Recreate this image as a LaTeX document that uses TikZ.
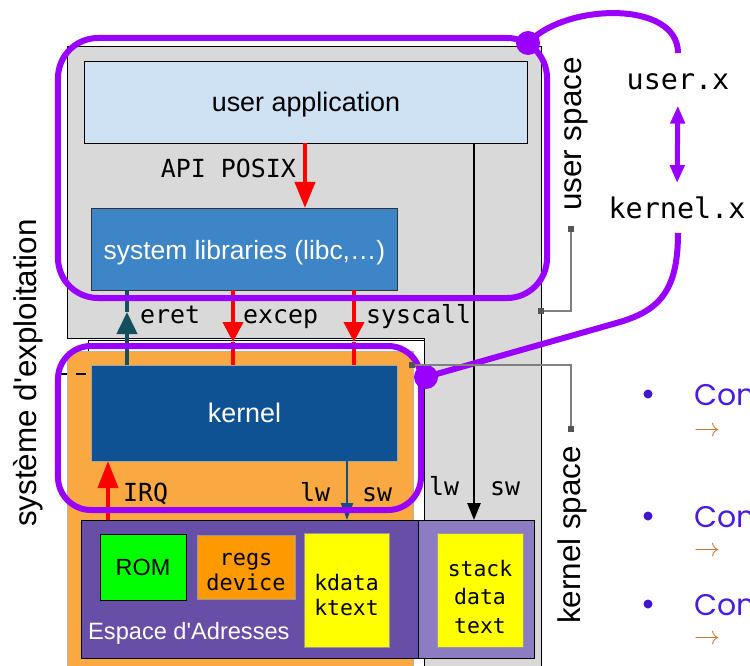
\documentclass[tikz,border=0pt]{standalone}
\usepackage{fontspec}
\setmainfont{Liberation Sans}
\newfontfamily\monof{DejaVu Sans Mono}
\newfontfamily\popf{Poppins}
\usetikzlibrary{arrows.meta}
\definecolor{grayfill}{HTML}{D9D9D9}
\definecolor{uablue}{HTML}{CFE2F3}
\definecolor{slblue}{HTML}{3D85C6}
\definecolor{kblue}{HTML}{0F5294}
\definecolor{orbg}{HTML}{F9A842}
\definecolor{espc}{HTML}{674EA7}
\definecolor{stkc}{HTML}{8E7CC3}
\definecolor{tealc}{HTML}{134F5C}
\definecolor{lwc}{HTML}{154E7E}
\definecolor{purp}{HTML}{9900FF}
\definecolor{conc}{HTML}{4A1CE2}
\definecolor{bulc}{HTML}{4215CF}
\definecolor{arrc}{HTML}{C97B3D}
\definecolor{romg}{HTML}{00FF00}
\definecolor{regc}{HTML}{FF9900}
\definecolor{yel}{HTML}{FFFF00}
\definecolor{conng}{HTML}{808080}
\definecolor{sqc}{HTML}{555555}
\begin{document}
\begin{tikzpicture}[x=1bp,y=-1bp,
  box/.style={draw=black, line width=1bp, inner sep=0pt, outer sep=0pt},
  sansbig/.style={font=\fontsize{27}{32}\selectfont},
  mono/.style={font=\monof\fontsize{25}{30}\selectfont, inner sep=0pt},
  purpline/.style={draw=purp, line width=6bp},
  purpbox/.style={draw=purp, line width=6bp, inner sep=0pt},
  dot/.style={circle, fill=purp, inner sep=0pt, minimum size=24bp},
  conn/.style={draw=conng, line width=1.3bp},
  sq/.style={fill=sqc, inner sep=0pt, minimum size=6bp},
  bul/.style={circle, fill=bulc, inner sep=0pt, minimum size=9bp},
  contxt/.style={anchor=base west, inner sep=0pt, text=conc, font=\popf\fontsize{30}{36}\selectfont},
  arrtxt/.style={anchor=west, inner sep=0pt, text=arrc},
  vlab/.style={rotate=90, inner sep=0pt, font=\fontsize{31.5}{36}\selectfont},
  intxt/.style={inner sep=0pt, align=center}
]
\useasboundingbox (0,0) rectangle (750,666);

% background regions
\path[fill=grayfill, draw=black, line width=1bp] (67,47) -- (541,47) -- (541,670) -- (424,670) -- (424,338) -- (67,338) -- cycle;
\path[fill=white, draw=black, line width=1bp] (88,340) rectangle (424,670);
\path[fill=orbg, draw=black!30, line width=1bp] (67,351) rectangle (413,670);
\draw[line width=2bp, dash pattern=on 10bp off 9bp] (57,374) -- (88,374);

% boxes
\node[box, fill=uablue, minimum width=442bp, minimum height=81bp] (ua) at (306,102.5) {};
\node[intxt, sansbig, yshift=-2.5bp] (uat) at (ua.center) {user application};
\node[box, draw=black!80, fill=slblue, minimum width=305bp, minimum height=82bp] (sl) at (244.5,249) {};
\node[intxt, text=white, font=\fontsize{26.5}{30}\selectfont, yshift=-3.5bp] (slt) at (sl.center) {system libraries (libc,…)};
\node[box, draw=black!35, fill=kblue, text=white, minimum width=305bp, minimum height=96bp, sansbig] (k) at (244.5,413) {kernel};
\node[box, fill=espc, minimum width=336bp, minimum height=138bp] (esp) at (250,589) {};
\node[box, fill=stkc, minimum width=116bp, minimum height=138bp] (stk) at (476,589) {};
\node[box, fill=romg, minimum width=86bp, minimum height=66bp, font=\fontsize{23.5}{28}\selectfont] (rom) at (143,567) {ROM};
\node[box, draw=black!40, fill=regc, minimum width=98bp, minimum height=64bp] (regs) at (246,567) {};
\node[intxt, font=\monof\fontsize{22}{25}\selectfont, yshift=-5bp] (regst) at (regs.center) {regs\\device};
\node[box, draw=black!40, fill=yel, minimum width=85bp, minimum height=114bp] (kd) at (346.5,590) {};
\node[intxt, font=\monof\fontsize{21.5}{26}\selectfont, yshift=-5bp] (kdt) at (kd.center) {kdata\\ktext};
\node[box, draw=black!40, fill=yel, minimum width=86bp, minimum height=114bp] (sd) at (480,590) {};
\node[intxt, font=\monof\fontsize{21.5}{28.5}\selectfont, yshift=-7bp] (sdt) at (sd.center) {stack\\data\\text};
\node[anchor=base west, inner sep=0pt, text=white, font=\fontsize{23.7}{28}\selectfont] (espl) at (88,639) {Espace d\textquotesingle Adresses};

% arrows
\coordinate (apx) at (305,0);
\draw[draw=red, line width=4bp, -{Triangle[width=20bp,length=26bp]}] (ua.south -| apx) -- (sl.north -| apx);

\coordinate (erT) at (127,312);
\draw[draw=tealc, line width=4bp, -{Triangle[width=20bp,length=22bp]}] (erT |- k.north) -- (erT);
\draw[draw=tealc, line width=4bp] (erT) -- (erT |- sl.south);

\coordinate (exT) at (233,342);
\draw[draw=red, line width=4bp, -{Triangle[width=20bp,length=20bp]}] (exT |- sl.south) -- (exT);
\draw[draw=red, line width=4bp] (exT) -- (exT |- k.north);

\coordinate (syT) at (354,342);
\draw[draw=red, line width=4bp, -{Triangle[width=20bp,length=20bp]}] (syT |- sl.south) -- (syT);
\draw[draw=red, line width=4bp] (syT) -- (syT |- k.north);

\coordinate (irx) at (108,0);
\draw[draw=red, line width=4bp, -{Triangle[width=20bp,length=27bp]}] (esp.north -| irx) -- (k.south -| irx);

\coordinate (lwx) at (347,0);
\draw[draw=lwc, line width=2.5bp, -{Triangle[width=12bp,length=17bp]}] (k.south -| lwx) -- (esp.north -| lwx);

\coordinate (bkx) at (474,0);
\draw[draw=black, line width=2.5bp, -{Triangle[width=13bp,length=17bp]}] (ua.south -| bkx) -- (stk.north -| bkx);

% purple outlines
\node[purpbox, rounded corners=40bp, minimum width=489bp, minimum height=260bp] (us) at (302.5,168) {};
\node[purpbox, rounded corners=33bp, minimum width=363bp, minimum height=164bp] (ks) at (239.5,428) {};
\node[dot] (d1) at (528,43) {};
\node[dot] (d2) at (426,377) {};

% right labels
\node[font=\monof\fontsize{28.5}{32}\selectfont, inner sep=0pt, anchor=base] (ux) at (678,90) {user.x};
\node[font=\monof\fontsize{28.5}{32}\selectfont, inner sep=0pt, anchor=base] (kx) at (677,218) {kernel.x};
\coordinate (ut) at (678,53);
\coordinate (kb) at (678,233);
\coordinate (mid) at (620,322);
\draw[purpline] (d1.center) .. controls (565,3) and (678,0) .. (ut);
\draw[purpline] (kb) .. controls (678,290) and (660,310) .. (mid) -- (d2.center);
\draw[draw=purp, line width=5bp, {Triangle[width=14bp,length=18bp]}-{Triangle[width=14bp,length=18bp]}, shorten <=15bp, shorten >=13bp] (ux.south) -- (kx.north);

% brackets
\coordinate (us1) at (541,311);
\coordinate (us2) at (571,229);
\draw[conn] (us1) -| (us2);
\node[sq] (sqa) at (us1) {};
\node[sq] (sqb) at (us2) {};
\coordinate (ks1) at (412,365);
\coordinate (ks2) at (571,429);
\draw[conn] (ks1) -| (ks2);
\node[sq] (sqc1) at (ks1) {};
\node[sq] (sqd) at (ks2) {};

% labels
\node[mono, anchor=base east] (api) at (296,177) {API POSIX};
\node[mono, anchor=base west] (eret) at (140,323) {eret};
\node[mono, anchor=base west] (excep) at (243,323) {excep};
\node[mono, anchor=base west] (sysc) at (366,323) {syscall};
\node[mono, anchor=base west] (irq) at (123,501) {IRQ};
\node[mono, anchor=base west] (lw1) at (300,501) {lw};
\node[mono, anchor=base west] (sw1) at (362,501) {sw};
\node[mono, anchor=base west] (lw2) at (429,495) {lw};
\node[mono, anchor=base west] (sw2) at (490,495) {sw};

\node[vlab] (usl) at (576.5,134) {user space};
\node[vlab] (ksl) at (572.5,535) {kernel space};
\node[vlab] (sel) at (28,373) {système d\textquotesingle exploitation};

% bullets
\node[bul] (b1) at (648,394) {};
\node[bul] (b2) at (648,516) {};
\node[bul] (b3) at (648,604) {};
\node[contxt] (c1) at (694,405) {Con};
\node[contxt] (c2) at (694,527) {Con};
\node[contxt] (c3) at (694,615) {Con};
\node[arrtxt] (a1) at (694,432) {\resizebox{26bp}{!}{$\rightarrow$}};
\node[arrtxt] (a2) at (694,552) {\resizebox{26bp}{!}{$\rightarrow$}};
\node[arrtxt] (a3) at (694,640) {\resizebox{26bp}{!}{$\rightarrow$}};
\end{tikzpicture}
\end{document}
